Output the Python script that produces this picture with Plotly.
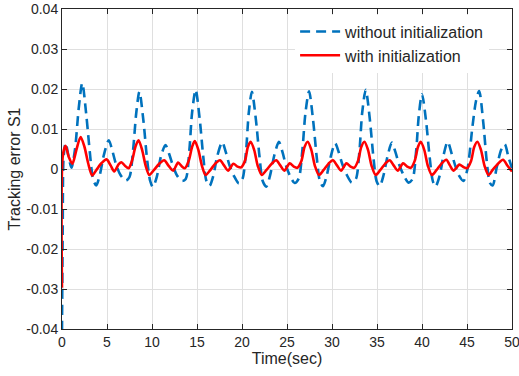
import plotly.graph_objects as go

# ---- data ----
t_without = [0.0, 0.08, 0.18, 0.4, 0.7, 1.05, 1.45, 1.85,
             2.25, 2.7, 3.1, 3.45, 3.8, 4.2, 4.65, 5.2, 5.6, 6.0, 6.5, 7.1, 7.5, 7.9, 8.25,
             8.6, 9.05, 9.45, 9.8, 10.1, 10.55, 11.0, 11.5, 11.9, 12.3, 12.8, 13.35, 13.75, 14.15, 14.45,
             14.85, 15.3, 15.7, 16.05, 16.4, 16.8, 17.25, 17.8, 18.2, 18.6, 19.1, 19.65, 20.05, 20.45, 20.75,
             21.1, 21.55, 21.95, 22.3, 22.7, 23.1, 23.6, 24.1, 24.5, 24.9, 25.35, 25.85, 26.3, 26.7, 27.05,
             27.45, 27.9, 28.3, 28.65, 29.0, 29.4, 29.85, 30.35, 30.75, 31.15, 31.65, 32.2, 32.65, 33.05, 33.35,
             33.75, 34.2, 34.6, 34.95, 35.3, 35.7, 36.15, 36.65, 37.05, 37.45, 37.95, 38.5, 38.95, 39.35, 39.65,
             40.0, 40.45, 40.85, 41.2, 41.5, 41.95, 42.4, 42.85, 43.3, 43.7, 44.15, 44.6, 45.05, 45.6, 46.0,
             46.35, 46.8, 47.2, 47.55, 47.85, 48.3, 48.8, 49.2, 49.6, 50.0]
e_without = [-0.0405, -0.015, 0.003, 0.0065, 0.0035, 0.0003, 0.005, 0.015,
             0.0215, 0.0135, 0.004, -0.0025, -0.0041, -0.0015, 0.0035, 0.0072, 0.0045, 0.0012, -0.0015, -0.0029, -0.002, 0.0048, 0.014,
             0.0193, 0.012, 0.0025, -0.003, -0.0045, -0.0018, 0.0032, 0.006, 0.0038, 0.001, -0.0017, -0.003, -0.0025, 0.0047, 0.014,
             0.0198, 0.0125, 0.003, -0.003, -0.0042, -0.0018, 0.0032, 0.0067, 0.0042, 0.001, -0.0017, -0.0036, -0.0025, 0.0045, 0.014,
             0.0193, 0.0122, 0.003, -0.003, -0.0044, -0.0018, 0.0035, 0.0068, 0.0042, 0.0008, -0.0018, -0.0035, -0.0024, 0.0045, 0.014,
             0.0194, 0.0122, 0.003, -0.003, -0.0043, -0.0018, 0.003, 0.0064, 0.0042, 0.0012, -0.0015, -0.0034, -0.0025, 0.0045, 0.014,
             0.0198, 0.0125, 0.003, -0.003, -0.0043, -0.0018, 0.003, 0.0066, 0.0042, 0.0012, -0.0015, -0.0034, -0.0025, 0.0045, 0.0135,
             0.0187, 0.012, 0.003, -0.003, -0.0044, -0.0018, 0.0035, 0.0068, 0.0038, 0.0008, -0.0018, -0.003, 0.0, 0.0105, 0.017,
             0.0195, 0.0118, 0.0018, -0.0035, -0.0041, 0.0004, 0.0048, 0.0062, 0.003, 0.0002]

t_with = [0.0, 0.1, 0.4, 0.75, 1.15, 1.6,
          2.07, 2.5, 2.9, 3.35, 3.8, 4.4, 4.95, 5.4, 5.8, 6.3, 6.6, 7.0, 7.4, 7.8, 8.15,
          8.5, 8.9, 9.3, 9.7, 10.2, 10.8, 11.35, 11.85, 12.35, 12.9, 13.3, 13.65, 14.1, 14.45,
          14.75, 15.15, 15.55, 15.95, 16.5, 17.05, 17.55, 18.0, 18.45, 19.05, 19.5, 19.9, 20.35, 20.65,
          20.95, 21.35, 21.75, 22.2, 22.7, 23.3, 23.8, 24.25, 24.7, 25.3, 25.75, 26.15, 26.6, 26.95,
          27.3, 27.7, 28.1, 28.55, 29.05, 29.6, 30.1, 30.55, 31.0, 31.6, 32.05, 32.45, 32.9, 33.25,
          33.6, 34.0, 34.4, 34.85, 35.35, 35.9, 36.4, 36.85, 37.3, 37.9, 38.35, 38.75, 39.2, 39.55,
          39.85, 40.25, 40.65, 41.1, 41.6, 42.15, 42.7, 43.1, 43.5, 44.15, 44.6, 45.0, 45.45, 45.8,
          46.15, 46.55, 46.95, 47.4, 47.85, 48.4, 49.0, 49.5, 50.0]
e_with = [-0.0297, 0.0035, 0.0058, 0.003, 0.0013, 0.0048,
          0.008, 0.0055, 0.0015, -0.0016, -0.0003, 0.0015, 0.0024, 0.0009, -0.0006, 0.0012, 0.0017, 0.0008, 0.0002, 0.0022, 0.0055,
          0.0072, 0.0048, 0.0008, -0.0015, -0.0003, 0.0013, 0.0022, 0.0008, -0.0004, 0.0016, 0.0007, 0.0002, 0.0022, 0.0055,
          0.007, 0.0048, 0.0008, -0.0015, -0.0002, 0.0014, 0.0022, 0.0009, -0.0004, 0.0013, 0.0006, 0.0004, 0.0022, 0.0055,
          0.0068, 0.0048, 0.0008, -0.0015, -0.0003, 0.0013, 0.0022, 0.0009, -0.0004, 0.0014, 0.0006, 0.0003, 0.002, 0.0055,
          0.0068, 0.0048, 0.0008, -0.0015, -0.0003, 0.0013, 0.0022, 0.0009, -0.0004, 0.0014, 0.0006, 0.0003, 0.0021, 0.0055,
          0.0068, 0.0048, 0.0008, -0.0015, -0.0003, 0.0013, 0.0022, 0.0009, -0.0004, 0.0014, 0.0006, 0.0003, 0.0021, 0.0055,
          0.0068, 0.0048, 0.0008, -0.0015, -0.0003, 0.0013, 0.0023, 0.0009, -0.0004, 0.0011, 0.0005, 0.0002, 0.002, 0.0055,
          0.0068, 0.0048, 0.0008, -0.0015, -0.0002, 0.0012, 0.0023, 0.0008, -0.0006]

x_ticks = [0, 5, 10, 15, 20, 25, 30, 35, 40, 45, 50]
y_ticks = [-0.04, -0.03, -0.02, -0.01, 0, 0.01, 0.02, 0.03, 0.04]
y_tick_text = ["-0.04", "-0.03", "-0.02", "-0.01", "0", "0.01", "0.02", "0.03", "0.04"]

FONT = "Liberation Sans, Arial, sans-serif"
AX = "#262626"

fig = go.Figure()
fig.add_trace(go.Scatter(
    x=t_without, y=e_without, mode="lines", name="without initialization",
    line=dict(color="#0072BD", width=2.6, dash="10px,6px", shape="spline", smoothing=0.8)))
fig.add_trace(go.Scatter(
    x=t_with, y=e_with, mode="lines", name="with initialization",
    line=dict(color="#FF0000", width=2.6, shape="spline", smoothing=0.8)))

axis_common = dict(showline=True, linecolor=AX, linewidth=1, mirror="ticks",
                   ticks="inside", ticklen=5, tickcolor=AX, tickwidth=1,
                   showgrid=True, gridcolor="#dfdfdf", gridwidth=1, zeroline=False,
                   automargin=False, ticklabeloverflow="allow",
                   tickfont=dict(family=FONT, size=14, color=AX))

fig.update_xaxes(range=[0, 50], tickvals=x_ticks,
                 title=dict(text="Time(sec)", font=dict(family=FONT, size=16, color=AX), standoff=4),
                 **axis_common)
fig.update_yaxes(range=[-0.04, 0.04], tickvals=y_ticks, ticktext=y_tick_text,
                 title=dict(text="Tracking error S1", font=dict(family=FONT, size=16, color=AX), standoff=1),
                 **axis_common)

fig.update_layout(
    width=519, height=376,
    margin=dict(l=62, r=7, t=9, b=47),
    plot_bgcolor="white", paper_bgcolor="white",
    font=dict(family=FONT, color=AX),
    legend=dict(x=0.518, y=0.9825, xanchor="left", yanchor="top",
                bgcolor="white", borderwidth=0,
                font=dict(family=FONT, size=16, color=AX),
                tracegroupgap=0, itemwidth=40),
    showlegend=True,
)

fig.write_html("out.html")
